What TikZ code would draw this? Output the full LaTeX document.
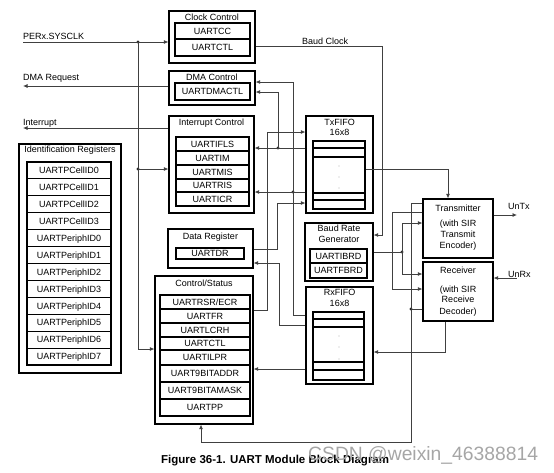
\documentclass[tikz,border=0pt]{standalone}
\usepackage{fontspec}
\setmainfont{Liberation Sans}
\usetikzlibrary{arrows.meta}
\begin{document}
\begin{tikzpicture}[x=1pt,y=-1pt,
  lab/.style={inner sep=0pt, font=\fontsize{9}{10}\selectfont, text height=6.5pt, text depth=0pt},
  box/.style={draw=black, line width=1.1pt, inner sep=0pt, rectangle},
  reg/.style={box, lab},
  wire/.style={draw=black!75, line width=0.8pt},
  arr/.style={wire, -{Latex[length=4.5pt,width=4pt]}},
  arr2/.style={wire, {Latex[length=4.5pt,width=4pt]}-{Latex[length=4.5pt,width=4pt]}},
  jdot/.style={circle, fill=black!85, inner sep=0pt, minimum size=3.4pt},
  fdot/.style={circle, fill=black!80, inner sep=0pt, minimum size=0.9pt},
  fifoline/.style={draw=black, line width=1.1pt},
]
\path[use as bounding box] (0,0) rectangle (554,472);

% ---------------- Clock Control
\node[box, minimum width=86pt, minimum height=52pt] (clk) at (212,37) {};
\node[lab] (clkT) at (212,17) {Clock Control};
\node[reg, minimum width=75pt, minimum height=16pt] (uartcc) at (212.5,31) {UARTCC};
\node[reg, minimum width=75pt, minimum height=17pt] (uartctlA) at (212.5,47.5) {UARTCTL};

% ---------------- DMA Control
\node[box, minimum width=86pt, minimum height=34pt] (dma) at (212,88) {};
\node[lab] (dmaT) at (212,77) {DMA Control};
\node[reg, minimum width=75pt, minimum height=17pt] (dmactl) at (212.5,91.5) {UARTDMACTL};

% ---------------- Interrupt Control
\node[box, minimum width=85pt, minimum height=97pt] (intc) at (211.5,164.5) {};
\node[lab] (intT) at (211.5,122) {Interrupt Control};
\node[reg, minimum width=73pt, minimum height=14pt] (ifls) at (212.5,144) {UARTIFLS};
\node[reg, minimum width=73pt, minimum height=14pt] (im) at (212.5,158) {UARTIM};
\node[reg, minimum width=73pt, minimum height=14pt] (mis) at (212.5,172) {UARTMIS};
\node[reg, minimum width=73pt, minimum height=13pt] (ris) at (212.5,185.5) {UARTRIS};
\node[reg, minimum width=73pt, minimum height=14pt] (icr) at (212.5,199) {UARTICR};

% ---------------- Data Register
\node[box, minimum width=85pt, minimum height=39pt] (dreg) at (210.5,248.5) {};
\node[lab] (dregT) at (210.5,236) {Data Register};
\node[reg, minimum width=68pt, minimum height=11pt] (dr) at (210,253.5) {UARTDR};

% ---------------- Control/Status
\node[box, minimum width=98pt, minimum height=148pt] (cs) at (204,350) {};
\node[lab] (csT) at (204,283) {Control/Status};
\node[reg, minimum width=90pt, minimum height=14pt] (rsr) at (205,302) {UARTRSR/ECR};
\node[reg, minimum width=90pt, minimum height=14pt] (fr) at (205,316) {UARTFR};
\node[reg, minimum width=90pt, minimum height=14pt] (lcrh) at (205,330) {UARTLCRH};
\node[reg, minimum width=90pt, minimum height=13pt] (ctlB) at (205,343.5) {UARTCTL};
\node[reg, minimum width=90pt, minimum height=15pt] (ilpr) at (205,357.5) {UARTILPR};
\node[reg, minimum width=90pt, minimum height=17pt] (addr) at (205,373.5) {UART9BITADDR};
\node[reg, minimum width=90pt, minimum height=17pt] (amask) at (205,390.5) {UART9BITAMASK};
\node[reg, minimum width=90pt, minimum height=17pt] (pp) at (205,407.5) {UARTPP};

% ---------------- Identification Registers
\node[box, minimum width=102pt, minimum height=229pt] (idr) at (70,258.5) {};
\node[lab] (idrT) at (70,149.5) {Identification Registers};
\foreach \t [count=\i from 0] in {UARTPCellID0,UARTPCellID1,UARTPCellID2,UARTPCellID3,UARTPeriphID0,UARTPeriphID1,UARTPeriphID2,UARTPeriphID3,UARTPeriphID4,UARTPeriphID5,UARTPeriphID6,UARTPeriphID7}
  {\node[reg, minimum width=84pt, minimum height=16.92pt] (id\i) at (69,{170.46+\i*16.92}) {\t};}

% ---------------- TxFIFO
\node[box, minimum width=67pt, minimum height=97pt] (txf) at (339.5,164.5) {};
\node[lab] (txfT) at (339.5,122) {TxFIFO};
\node[lab] (txfS) at (339.5,132) {16x8};
\node[box, minimum width=52pt, minimum height=68pt] (txin) at (339,175) {};
\foreach \yy in {148,157,193,200} \draw[fifoline] (txin.west |- 0,\yy) -- (txin.east |- 0,\yy);
\foreach \yy in {166,177,188} \node[fdot] at (339,\yy) {};

% ---------------- Baud Rate Generator
\node[box, minimum width=68pt, minimum height=58pt] (brg) at (339,252) {};
\node[lab] (brgT) at (339,228.5) {Baud Rate};
\node[lab] (brgS) at (339,239.5) {Generator};
\node[reg, minimum width=57pt, minimum height=14pt] (ibrd) at (338.5,256) {UARTIBRD};
\node[reg, minimum width=57pt, minimum height=15pt] (fbrd) at (338.5,270.5) {UARTFBRD};

% ---------------- RxFIFO
\node[box, minimum width=67pt, minimum height=97pt] (rxf) at (339.5,335.5) {};
\node[lab] (rxfT) at (339.5,292) {RxFIFO};
\node[lab] (rxfS) at (339.5,303) {16x8};
\node[box, minimum width=51pt, minimum height=68pt] (rxin) at (338.5,346) {};
\foreach \yy in {319,327,362,370} \draw[fifoline] (rxin.west |- 0,\yy) -- (rxin.east |- 0,\yy);
\foreach \yy in {336,347,359} \node[fdot] at (339,\yy) {};

% ---------------- Transmitter / Receiver
\node[box, minimum width=70pt, minimum height=59pt] (tx) at (458,228.5) {};
\node[lab] (txA) at (458,208.3) {Transmitter};
\node[lab] (txB) at (458,223.5) {(with SIR};
\node[lab] (txC) at (458,234.5) {Transmit};
\node[lab] (txD) at (458,245.5) {Encoder)};
\node[box, minimum width=70pt, minimum height=59pt] (rx) at (458,291.5) {};
\node[lab] (rxA) at (458,270.7) {Receiver};
\node[lab] (rxB) at (458,289) {(with SIR};
\node[lab] (rxC) at (458,299.7) {Receive};
\node[lab] (rxD) at (458,311) {Decoder)};

% ---------------- external signals
\node[lab, anchor=west] (sysL) at (23,36) {PERx.SYSCLK};
\node[lab, anchor=west] (dmaL) at (23,77) {DMA Request};
\node[lab, anchor=west] (intL) at (23,122.5) {Interrupt};
\node[lab, anchor=west] (bclkL) at (302,41) {Baud Clock};
\node[lab, anchor=west] (untxL) at (508,206) {UnTx};
\node[lab, anchor=west] (unrxL) at (508,274) {UnRx};
\coordinate (sysin) at (23,42);
\coordinate (dmaout) at (23,86);
\coordinate (intout) at (23,128);
\coordinate (untx) at (517,215);
\coordinate (unrx) at (517,278);

% junction dots
\node[jdot] (j1) at (138,42) {};
\node[jdot] (j2) at (138,169) {};
\node[jdot] (j3) at (278,148) {};
\node[jdot] (j4) at (293,192) {};
\node[jdot] (j5) at (402,252) {};
\node[jdot] (j6) at (411,309) {};

% ---------------- connectors
\draw[arr] (sysin) -- (clk.west |- sysin);
\draw[arr] (j1.center) |- (cs.west |- 0,349);
\draw[arr] (j2.center) -- (intc.west |- j2);
\draw[arr] (dma.west |- dmaout) -- (dmaout);
\draw[arr] (intc.west |- intout) -- (intout);
\draw[arr] (clk.east |- 0,46) -| (382,235) -- (brg.east |- 0,235);
\draw[arr] (rxf.west |- 0,315) -| (293,82) -- (dma.east |- 0,82);
\draw[arr] (txf.west |- j4) -- (intc.east |- j4);
\draw[arr] (txf.west |- j3) -- (intc.east |- j3);
\draw[arr] (j3.center) |- (dma.east |- 0,92);
\draw[arr] (cs.east |- 0,310) -| (267,132) -- (txf.west |- 0,132);
\draw[arr] (dreg.east |- 0,249) -| (277,203) -- (txf.west |- 0,203);
\draw[arr] (rxf.west |- 0,325) -| (279,263) -- (dreg.east |- 0,263);
\draw[arr] (rxf.west |- 0,369) -- (cs.east |- 0,369);
\draw[arr] (txin.east |- 0,169) -| (tx.north -| 448,0);
\draw[wire] (brg.east |- j5) -- (j5.center);
\draw[arr2] (tx.west |- 0,223) -| (402,274) -- (rx.west |- 0,274);
\draw[arr] (tx.west |- 0,212) -| (392,289) -- (rx.west |- 0,289);
\draw[arr] (tx.west |- 0,203) -| (411,442) -| (cs.south -| 201,0);
\draw[wire] (rx.west |- j6) -- (j6.center);
\draw[arr] (tx.east |- untx) -- (untx);
\draw[arr] (unrx) -- (rx.east |- unrx);
\draw[arr] (rx.south -| 445,0) |- (rxf.east |- 0,352);

% ---------------- caption and watermark
\node[inner sep=0pt, anchor=base west, font=\fontsize{11.5}{13}\bfseries\selectfont] (cap) at (161,463) {Figure 36-1. UART Module Block Diagram};
\node[inner sep=0pt, anchor=base west, text=black!35, font=\fontsize{19.3}{22}\selectfont] (wm) at (308,460) {CSDN @weixin\_46388814};
\end{tikzpicture}
\end{document}
